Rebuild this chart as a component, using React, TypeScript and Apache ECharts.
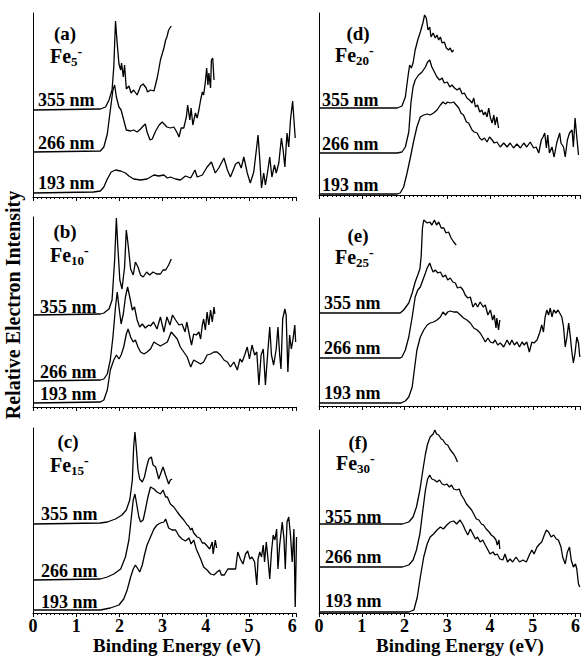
import React, { useEffect, useRef } from "react";
import * as echarts from "echarts";

type Pt = [number, number];

// ---------------- DATA (binding energy eV, relative intensity incl. offset) ----------------
const panelLetters = ["(a)", "(b)", "(c)", "(d)", "(e)", "(f)"];
const clusterSizes = ["5", "10", "15", "20", "25", "30"];
const wavelengthLabels = ["355 nm", "266 nm", "193 nm"];
const xTickValues = [0, 1, 2, 3, 4, 5, 6];
const xAxisTitle = "Binding Energy (eV)";
const yAxisTitle = "Relative Electron Intensity";

const fe5_355: Pt[] = [[0,87],[1.56,88],[1.68,90],[1.76,97],[1.83,107],[1.87,130],[1.91,176],[1.95,153],[1.99,133],[2.03,127],[2.05,134],[2.09,120],[2.12,132],[2.16,108],[2.22,111],[2.27,104],[2.33,107],[2.41,102],[2.49,111],[2.55,113],[2.62,109],[2.65,105],[2.72,107],[2.8,106],[2.88,120],[2.95,137],[3.03,149],[3.07,157],[3.1,160],[3.14,167],[3.2,171]];
const fe5_266: Pt[] = [[0,45],[1.56,46],[1.64,50],[1.72,63],[1.79,87],[1.85,107],[1.89,112],[1.93,100],[1.99,90],[2.04,87],[2.1,77],[2.16,67],[2.26,66],[2.33,67],[2.41,65],[2.49,68],[2.55,71],[2.6,73],[2.64,65],[2.71,57],[2.76,58],[2.84,66],[2.92,72],[2.99,75],[3.1,70],[3.18,69],[3.26,70],[3.34,64],[3.38,60],[3.43,69],[3.49,69],[3.55,80],[3.58,92],[3.63,77],[3.66,89],[3.7,72],[3.76,84],[3.8,79],[3.84,87],[3.88,97],[3.92,105],[3.95,102],[3.99,115],[4.02,129],[4.05,112],[4.07,124],[4.11,109],[4.13,137],[4.16,139],[4.19,117]];
const fe5_193: Pt[] = [[0,4],[1.4,5],[1.56,6],[1.64,10],[1.72,18],[1.81,25],[1.91,27],[2.03,26],[2.14,24],[2.22,21],[2.33,18],[2.49,17],[2.64,18],[2.72,20],[2.8,22],[2.91,21],[3.03,22],[3.11,19],[3.18,20],[3.3,18],[3.41,17],[3.53,21],[3.65,19],[3.75,27],[3.8,20],[3.92,22],[4.03,30],[4.13,35],[4.22,24],[4.3,29],[4.42,39],[4.5,27],[4.57,20],[4.69,33],[4.76,35],[4.82,29],[4.88,40],[4.96,24],[5.03,14],[5.11,25],[5.17,47],[5.21,62],[5.25,37],[5.29,9],[5.34,24],[5.38,12],[5.43,25],[5.48,40],[5.53,20],[5.59,32],[5.63,24],[5.69,34],[5.75,59],[5.79,47],[5.83,30],[5.88,64],[5.92,50],[5.96,77],[6.01,96],[6.07,59]];

const fe10_355: Pt[] = [[0,92],[1.56,93],[1.64,94],[1.76,98],[1.83,107],[1.89,147],[1.93,189],[1.96,163],[2.01,127],[2.06,118],[2.12,140],[2.16,177],[2.2,163],[2.26,138],[2.32,132],[2.37,145],[2.43,140],[2.49,132],[2.55,130],[2.63,135],[2.7,132],[2.78,135],[2.86,133],[2.95,133],[3.01,137],[3.07,137],[3.14,142],[3.2,148]];
const fe10_266: Pt[] = [[0,26],[1.56,27],[1.64,28],[1.72,33],[1.79,47],[1.85,70],[1.91,100],[1.95,115],[1.99,100],[2.04,83],[2.09,93],[2.14,110],[2.19,120],[2.24,110],[2.3,97],[2.35,100],[2.41,87],[2.47,80],[2.53,83],[2.6,79],[2.68,82],[2.72,81],[2.79,85],[2.87,78],[2.95,90],[3.03,75],[3.1,90],[3.17,82],[3.23,92],[3.3,87],[3.38,82],[3.45,83],[3.52,75],[3.56,85],[3.62,72],[3.67,62],[3.72,73],[3.78,72],[3.84,75],[3.88,68],[3.92,82],[3.95,88],[3.99,77],[4.03,95],[4.07,82],[4.11,97],[4.15,85],[4.19,100],[4.21,93]];
const fe10_193: Pt[] = [[0,4],[1.56,5],[1.64,7],[1.72,17],[1.79,37],[1.87,47],[1.93,52],[1.99,48],[2.04,52],[2.1,60],[2.16,73],[2.2,78],[2.26,70],[2.32,65],[2.37,67],[2.43,60],[2.49,55],[2.57,53],[2.64,55],[2.72,58],[2.8,65],[2.87,63],[2.95,61],[3.03,63],[3.11,65],[3.2,75],[3.26,72],[3.34,68],[3.41,60],[3.49,55],[3.57,50],[3.65,40],[3.72,47],[3.8,45],[3.88,43],[3.95,45],[4.03,52],[4.11,53],[4.19,55],[4.26,55],[4.34,52],[4.42,47],[4.5,45],[4.57,40],[4.65,45],[4.73,37],[4.79,48],[4.84,45],[4.9,52],[4.96,60],[5.01,48],[5.07,62],[5.13,52],[5.18,55],[5.23,22],[5.28,52],[5.33,58],[5.38,22],[5.43,52],[5.48,80],[5.52,52],[5.57,42],[5.63,58],[5.67,80],[5.71,52],[5.74,38],[5.78,88],[5.83,98],[5.86,92],[5.9,35],[5.94,72],[5.98,58],[6.02,68],[6.06,82],[6.08,65]];

const fe15_355: Pt[] = [[0,89],[1.56,90],[1.72,91],[1.91,94],[2.06,98],[2.16,103],[2.24,113],[2.3,133],[2.33,166],[2.36,181],[2.39,166],[2.43,143],[2.47,134],[2.53,131],[2.58,136],[2.63,146],[2.68,154],[2.74,156],[2.78,148],[2.84,146],[2.91,134],[2.96,140],[3.01,146],[3.07,138],[3.14,129],[3.18,133],[3.22,134]];
const fe15_266: Pt[] = [[0,33],[1.56,34],[1.72,36],[1.87,39],[2.03,44],[2.14,56],[2.22,73],[2.27,93],[2.32,113],[2.36,119],[2.4,109],[2.45,96],[2.49,91],[2.55,93],[2.6,103],[2.66,116],[2.72,126],[2.8,124],[2.87,121],[2.95,119],[3.01,123],[3.07,116],[3.11,116],[3.18,109],[3.26,106],[3.34,101],[3.41,97],[3.49,93],[3.57,88],[3.6,87],[3.65,83],[3.68,85],[3.72,80],[3.8,76],[3.86,75],[3.92,70],[3.97,70],[4.03,67],[4.09,64],[4.15,71],[4.17,59],[4.22,73],[4.25,65]];
const fe15_193: Pt[] = [[0,3],[1.56,3],[1.79,5],[1.99,8],[2.1,14],[2.18,23],[2.26,36],[2.32,44],[2.37,48],[2.43,44],[2.47,41],[2.53,48],[2.58,58],[2.64,68],[2.72,76],[2.8,84],[2.87,88],[2.95,90],[3.03,91],[3.07,94],[3.14,85],[3.22,83],[3.3,83],[3.38,77],[3.45,74],[3.53,72],[3.61,75],[3.66,69],[3.72,73],[3.78,64],[3.84,58],[3.88,54],[3.95,46],[4.03,43],[4.11,39],[4.19,38],[4.26,41],[4.32,43],[4.36,38],[4.43,38],[4.51,44],[4.61,44],[4.69,44],[4.74,61],[4.8,54],[4.86,49],[4.92,59],[4.97,62],[5.02,54],[5.07,56],[5.13,51],[5.18,28],[5.21,54],[5.25,61],[5.29,56],[5.33,68],[5.36,51],[5.4,71],[5.44,54],[5.48,34],[5.52,61],[5.56,78],[5.6,73],[5.64,84],[5.67,44],[5.71,68],[5.77,91],[5.81,74],[5.84,44],[5.88,91],[5.92,96],[5.96,78],[6.0,51],[6.04,84],[6.07,6],[6.1,76]];

const fe20_355: Pt[] = [[0,87],[1.83,87],[1.94,89],[2.02,98],[2.08,118],[2.12,130],[2.16,127],[2.2,132],[2.25,145],[2.31,155],[2.37,163],[2.43,172],[2.47,180],[2.51,177],[2.55,165],[2.59,168],[2.62,158],[2.67,162],[2.72,157],[2.76,160],[2.8,155],[2.84,158],[2.88,152],[2.93,153],[2.98,147],[3.03,145],[3.07,147],[3.11,143],[3.15,145]];
const fe20_266: Pt[] = [[0,42],[1.83,42],[1.94,43],[2.02,48],[2.1,63],[2.15,92],[2.2,108],[2.25,115],[2.33,120],[2.41,123],[2.49,128],[2.54,133],[2.59,135],[2.64,128],[2.7,123],[2.76,118],[2.82,115],[2.88,117],[2.93,112],[3.0,113],[3.06,108],[3.11,110],[3.17,107],[3.23,105],[3.29,107],[3.35,101],[3.4,102],[3.46,97],[3.52,95],[3.58,92],[3.62,97],[3.66,88],[3.71,90],[3.76,83],[3.81,85],[3.85,80],[3.89,83],[3.93,78],[3.97,87],[4.01,77],[4.05,72],[4.09,80],[4.12,70],[4.16,78],[4.2,67]];
const fe20_193: Pt[] = [[0,1],[1.83,1],[1.9,2],[1.98,8],[2.06,22],[2.14,38],[2.22,55],[2.29,68],[2.37,78],[2.45,80],[2.53,81],[2.6,80],[2.68,82],[2.76,85],[2.84,90],[2.9,93],[2.96,91],[3.01,93],[3.07,92],[3.15,93],[3.21,90],[3.27,87],[3.32,82],[3.38,80],[3.45,73],[3.5,72],[3.58,65],[3.63,63],[3.7,62],[3.76,57],[3.81,55],[3.87,57],[3.93,53],[3.99,58],[4.05,55],[4.1,52],[4.16,53],[4.24,48],[4.32,52],[4.4,48],[4.47,52],[4.55,47],[4.63,51],[4.71,47],[4.79,52],[4.86,48],[4.94,53],[5.02,47],[5.08,48],[5.14,42],[5.2,55],[5.24,58],[5.28,62],[5.32,47],[5.35,60],[5.39,42],[5.45,48],[5.5,38],[5.56,52],[5.63,62],[5.66,52],[5.72,48],[5.76,38],[5.81,55],[5.86,62],[5.92,65],[5.95,48],[5.99,77],[6.03,58],[6.07,40]];

const fe25_355: Pt[] = [[0,93],[1.9,93],[1.98,96],[2.1,103],[2.18,113],[2.25,124],[2.31,131],[2.36,137],[2.39,150],[2.42,178],[2.45,186],[2.53,183],[2.59,184],[2.64,181],[2.7,186],[2.75,181],[2.8,184],[2.86,178],[2.92,178],[2.97,173],[3.03,174],[3.09,168],[3.15,164],[3.21,161]];
const fe25_266: Pt[] = [[0,48],[1.9,48],[1.94,49],[2.02,56],[2.1,69],[2.18,89],[2.25,109],[2.31,116],[2.37,119],[2.43,126],[2.49,133],[2.53,138],[2.59,143],[2.63,138],[2.67,134],[2.72,136],[2.78,133],[2.84,134],[2.9,129],[2.96,131],[3.01,126],[3.07,128],[3.13,124],[3.19,123],[3.24,118],[3.31,119],[3.37,116],[3.42,111],[3.48,108],[3.54,109],[3.6,99],[3.66,103],[3.71,99],[3.77,104],[3.84,99],[3.89,101],[3.95,91],[4.01,96],[4.06,86],[4.1,91],[4.14,78],[4.16,88],[4.2,76],[4.23,86]];
const fe25_193: Pt[] = [[0,3],[1.92,3],[2.02,5],[2.1,9],[2.18,19],[2.23,36],[2.29,56],[2.37,69],[2.45,76],[2.53,81],[2.6,83],[2.68,84],[2.76,86],[2.84,89],[2.9,94],[2.96,91],[3.01,94],[3.07,95],[3.15,94],[3.23,94],[3.31,91],[3.38,88],[3.46,86],[3.54,83],[3.62,78],[3.7,76],[3.77,73],[3.84,68],[3.89,64],[3.95,68],[4.01,64],[4.07,63],[4.12,66],[4.18,61],[4.24,63],[4.32,59],[4.4,66],[4.46,61],[4.51,66],[4.57,61],[4.63,64],[4.69,59],[4.75,64],[4.8,61],[4.86,64],[4.92,54],[4.98,64],[5.03,63],[5.1,66],[5.16,73],[5.21,81],[5.25,74],[5.29,89],[5.33,96],[5.37,91],[5.41,98],[5.45,89],[5.49,96],[5.54,93],[5.59,96],[5.63,93],[5.68,89],[5.72,79],[5.76,59],[5.8,69],[5.84,83],[5.88,69],[5.91,56],[5.95,43],[5.99,53],[6.03,69],[6.07,63],[6.1,49]];

const fe30_355: Pt[] = [[0,89],[1.95,89],[2.1,91],[2.2,96],[2.28,106],[2.36,123],[2.43,143],[2.49,159],[2.54,169],[2.6,176],[2.67,179],[2.71,183],[2.75,179],[2.8,178],[2.86,174],[2.9,173],[2.96,169],[3.01,168],[3.06,164],[3.11,161],[3.15,159],[3.19,156],[3.24,151]];
const fe30_266: Pt[] = [[0,46],[1.95,46],[2.1,48],[2.2,53],[2.28,63],[2.36,79],[2.43,103],[2.49,123],[2.54,134],[2.59,138],[2.64,134],[2.7,133],[2.76,131],[2.82,133],[2.88,129],[2.93,128],[2.99,129],[3.05,126],[3.1,128],[3.15,124],[3.22,123],[3.28,124],[3.33,118],[3.39,114],[3.45,109],[3.51,106],[3.57,103],[3.62,99],[3.68,94],[3.74,93],[3.8,89],[3.85,88],[3.91,84],[3.98,81],[4.03,78],[4.09,76],[4.14,73],[4.17,68],[4.21,73],[4.23,64]];
const fe30_193: Pt[] = [[0,1],[2.1,1],[2.22,3],[2.3,16],[2.37,36],[2.45,56],[2.53,69],[2.6,76],[2.68,79],[2.76,83],[2.84,86],[2.91,84],[2.99,88],[3.07,91],[3.15,92],[3.22,89],[3.3,93],[3.37,88],[3.42,83],[3.48,78],[3.54,84],[3.6,79],[3.66,74],[3.71,76],[3.77,71],[3.83,73],[3.89,68],[3.94,64],[4.0,59],[4.07,61],[4.12,58],[4.17,59],[4.23,54],[4.3,53],[4.35,59],[4.41,51],[4.47,54],[4.53,51],[4.61,56],[4.69,51],[4.77,53],[4.85,51],[4.92,58],[4.98,63],[5.03,59],[5.1,66],[5.16,69],[5.21,71],[5.27,78],[5.32,83],[5.37,81],[5.43,76],[5.49,78],[5.55,74],[5.6,73],[5.66,66],[5.7,56],[5.76,49],[5.81,61],[5.86,66],[5.9,53],[5.95,46],[6.0,49],[6.03,44],[6.07,29],[6.1,26]];

const panelSeries: Pt[][][] = [
  [fe5_355, fe5_266, fe5_193],
  [fe10_355, fe10_266, fe10_193],
  [fe15_355, fe15_266, fe15_193],
  [fe20_355, fe20_266, fe20_193],
  [fe25_355, fe25_266, fe25_193],
  [fe30_355, fe30_266, fe30_193],
];

// ---------------- LAYOUT (pixels) ----------------
const X_MAX = 6.1;
const FONT = "Liberation Serif";

const layout = [
  { left: 33, top: 13, h: 184, pxPerEV: 43.2, bottom: false, lblX: 38, lblY: [100, 143, 183], letter: [65, 33], fe: [50, 56] },
  { left: 33, top: 217, h: 190, pxPerEV: 43.2, bottom: false, lblX: 40, lblY: [307, 372, 394], letter: [65, 231], fe: [50, 255] },
  { left: 33, top: 428, h: 185, pxPerEV: 43.2, bottom: true, lblX: 41, lblY: [514, 571, 602], letter: [68, 441], fe: [50, 465] },
  { left: 319, top: 13, h: 182, pxPerEV: 42.75, bottom: false, lblX: 322, lblY: [100, 144, 185], letter: [358, 33], fe: [335, 55] },
  { left: 319, top: 218, h: 188, pxPerEV: 42.75, bottom: false, lblX: 324, lblY: [303, 348, 393], letter: [358, 235], fe: [335, 257] },
  { left: 319, top: 430, h: 183, pxPerEV: 42.75, bottom: true, lblX: 325, lblY: [517, 557, 601], letter: [358, 442], fe: [336, 463] },
];

function txt(text: string, size: number) {
  return { text, fill: "#000", fontFamily: FONT, fontWeight: "bold", fontSize: size };
}

function buildOption(): any {
  const grid: any[] = [];
  const xAxis: any[] = [];
  const yAxis: any[] = [];
  const series: any[] = [];
  const graphic: any[] = [];

  layout.forEach((p, i) => {
    grid.push({ left: p.left, top: p.top, width: X_MAX * p.pxPerEV, height: p.h, containLabel: false });
    xAxis.push({
      type: "value",
      gridIndex: i,
      min: 0,
      max: X_MAX,
      interval: 1,
      axisLine: { show: true, onZero: false, lineStyle: { color: "#000", width: 1 } },
      axisTick: { show: true, inside: false, length: 4, lineStyle: { color: "#000", width: 1 } },
      minorTick: { show: true, splitNumber: 10, length: 2, lineStyle: { color: "#000", width: 1 } },
      splitLine: { show: false },
      minorSplitLine: { show: false },
      axisLabel: {
        show: p.bottom,
        margin: 4,
        color: "#000",
        fontFamily: FONT,
        fontWeight: "bold",
        fontSize: 18,
        formatter: (v: number) => (xTickValues.indexOf(v) >= 0 ? String(v) : ""),
      },
    });
    yAxis.push({
      type: "value",
      gridIndex: i,
      min: 0,
      max: p.h,
      axisLine: { show: true, lineStyle: { color: "#000", width: 1 } },
      axisTick: { show: false },
      axisLabel: { show: false },
      splitLine: { show: false },
    });
    panelSeries[i].forEach((data, k) => {
      series.push({
        type: "line",
        name: `Fe${clusterSizes[i]}- ${wavelengthLabels[k]}`,
        xAxisIndex: i,
        yAxisIndex: i,
        data,
        symbol: "none",
        showSymbol: false,
        silent: true,
        lineStyle: { color: "#000", width: 1.3 },
      });
      graphic.push({
        type: "text",
        x: p.lblX,
        y: p.lblY[k],
        style: { ...txt(wavelengthLabels[k], 18), align: "left", verticalAlign: "middle" },
      });
    });
    graphic.push({
      type: "text",
      x: p.letter[0],
      y: p.letter[1],
      style: { ...txt(panelLetters[i], 19), align: "center", verticalAlign: "middle" },
    });
    graphic.push({
      type: "text",
      x: p.fe[0],
      y: p.fe[1],
      style: {
        text: `{m|Fe}{s|${clusterSizes[i]}}{p|-}`,
        align: "left",
        verticalAlign: "middle",
        rich: {
          m: { fontSize: 20, fontWeight: "bold", fontFamily: FONT, fill: "#000", lineHeight: 24 },
          s: { fontSize: 13, fontWeight: "bold", fontFamily: FONT, fill: "#000", verticalAlign: "bottom" },
          p: { fontSize: 14, fontWeight: "bold", fontFamily: FONT, fill: "#000", verticalAlign: "top" },
        },
      },
    });
  });

  // x-axis titles under the bottom panels
  graphic.push({ type: "text", x: 177, y: 645.5, style: { ...txt(xAxisTitle, 19), align: "center", verticalAlign: "middle" } });
  graphic.push({ type: "text", x: 460, y: 645.5, style: { ...txt(xAxisTitle, 19), align: "center", verticalAlign: "middle" } });
  // y-axis title
  graphic.push({
    type: "text", x: 13, y: 305, rotation: Math.PI / 2,
    style: { ...txt(yAxisTitle, 20), align: "center", verticalAlign: "middle" },
  });

  return {
    animation: false,
    backgroundColor: "#fff",
    grid,
    xAxis,
    yAxis,
    series,
    graphic,
  };
}

export default function App() {
  const ref = useRef<HTMLDivElement>(null);
  useEffect(() => {
    if (!ref.current) return;
    const chart = echarts.init(ref.current, undefined, { renderer: "svg" });
    chart.setOption(buildOption());
    return () => chart.dispose();
  }, []);
  return (
    <div
      ref={ref}
      style={{ position: "absolute", left: 0, top: 0, width: 583, height: 657, background: "#fff" }}
    />
  );
}
